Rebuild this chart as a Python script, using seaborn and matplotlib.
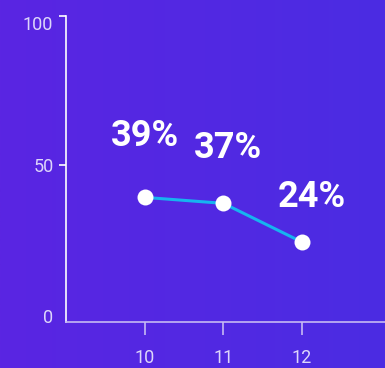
import numpy as np
import matplotlib
matplotlib.use("Agg")
import matplotlib.pyplot as plt
import seaborn as sns
import pandas as pd
from matplotlib.colors import LinearSegmentedColormap

categories = [10, 11, 12]
values = [39, 37, 24]
labels = ["39%", "37%", "24%"]

sns.set_theme(style="white")
plt.rcParams['font.family'] = ['Roboto', 'DejaVu Sans']

fig = plt.figure(figsize=(3.85, 3.68), dpi=100)

# background gradient
bg = fig.add_axes([0, 0, 1, 1], zorder=-10)
grad = np.linspace(0, 1, 256).reshape(1, -1)
cmap = LinearSegmentedColormap.from_list("bg", ["#5a25e2", "#4b2ce3"])
bg.imshow(grad, aspect="auto", cmap=cmap, extent=[0, 1, 0, 1])
bg.set_axis_off()

ax = fig.add_axes([66/385, (368-322)/368, 1 - 66/385, (322-16)/368])
ax.patch.set_alpha(0)

df = pd.DataFrame({"x": categories, "y": values})
sns.lineplot(data=df, x="x", y="y", ax=ax, color="#16b4f0", linewidth=2.2,
             marker="o", markersize=11.5, markerfacecolor="white",
             markeredgecolor="white", markeredgewidth=0)

ax.set_xlim(8.994, 13.06)
ax.set_ylim(-2.9, 100)
ax.set_xticks(categories)
ax.set_xticklabels([str(c) for c in categories])
ax.set_yticks([50, 100])
ax.set_yticklabels(["50", ""])
ax.set_xlabel("")
ax.set_ylabel("")

for s in ["top", "right"]:
    ax.spines[s].set_visible(False)
ax.spines["left"].set_color("white")
ax.spines["left"].set_linewidth(1.2)
ax.spines["bottom"].set_color("#c6b9f4")
ax.spines["bottom"].set_linewidth(1.2)

ax.tick_params(axis="x", colors="#c6b9f4", length=9.4, width=1.2, pad=10,
               labelsize=13, labelcolor="#ddd6fb", direction="out", bottom=True)
ax.tick_params(axis="y", colors="white", length=5, width=1.2, pad=4,
               labelsize=13, labelcolor="#ddd6fb", direction="out", left=True)
ytr = ax.get_yaxis_transform()
ax.text(-0.04, -1.5, "0", transform=ytr, ha="right", va="center",
        fontsize=13, color="#ddd6fb")
ax.text(-0.04, 97, "100", transform=ytr, ha="right", va="center",
        fontsize=13, color="#ddd6fb")

offsets = [(0, 61), (5, 55), (10, 45)]
for x, y, lab, (dx, dy) in zip(categories, values, labels, offsets):
    ax.annotate(lab, (x, y), xytext=(dx, dy), textcoords="offset pixels",
                ha="center", va="center", color="white", fontsize=26,
                fontweight="bold", family=["Roboto", "DejaVu Sans"])

fig.savefig("out.png", dpi=100)
